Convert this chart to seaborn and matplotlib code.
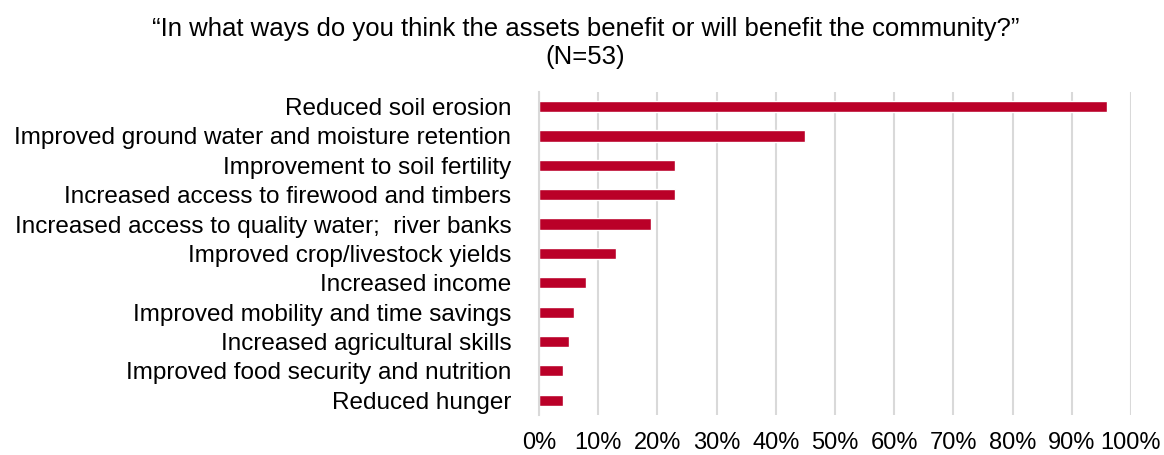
import matplotlib
matplotlib.use("Agg")
import matplotlib.pyplot as plt
import seaborn as sns
import pandas as pd
from matplotlib.ticker import PercentFormatter, MultipleLocator

categories = [
    "Reduced soil erosion",
    "Improved ground water and moisture retention",
    "Improvement to soil fertility",
    "Increased access to firewood and timbers",
    "Increased access to quality water;  river banks",
    "Improved crop/livestock yields",
    "Increased income",
    "Improved mobility and time savings",
    "Increased agricultural skills",
    "Improved food security and nutrition",
    "Reduced hunger",
]
values = [96, 45, 23, 23, 19, 13, 8, 6, 5, 4, 4]

title = "\u201cIn what ways do you think the assets benefit or will benefit the community?\u201d\n(N=53)"

df = pd.DataFrame({"category": categories, "value": values})

sns.set_theme(style="white")
plt.rcParams["font.family"] = ["Liberation Sans", "DejaVu Sans"]

fig = plt.figure(figsize=(11.64, 4.55), dpi=100)
ax = fig.add_axes([0.463, 0.088, 0.5086, 0.71])

sns.barplot(data=df, x="value", y="category", color="#BA0028", width=0.38,
            saturation=1, ax=ax, orient="h")

ax.set_xlim(0, 100)
ax.xaxis.set_major_locator(MultipleLocator(10))
ax.xaxis.set_major_formatter(PercentFormatter(decimals=0))
ax.grid(axis="x", color="#d9d9d9", linewidth=1.5)
ax.set_axisbelow(True)
for s in ["top", "right", "bottom"]:
    ax.spines[s].set_visible(False)
ax.spines["left"].set_color("#d9d9d9")
ax.spines["left"].set_linewidth(1.5)
ax.set_xlabel("")
ax.set_ylabel("")
ax.tick_params(axis="y", length=0, pad=20, labelsize=17.5, labelcolor="#000000")
ax.tick_params(axis="x", length=0, pad=12, labelsize=17, labelcolor="#000000")

fig.text(0.503, 0.962, title, ha="center", va="top", fontsize=18.5, color="#000000",
         linespacing=1.2)

fig.savefig("out.png", dpi=100)
